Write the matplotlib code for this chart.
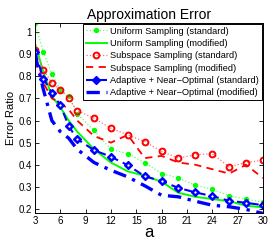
import numpy as np
import matplotlib
matplotlib.use('Agg')
import matplotlib.pyplot as plt

plt.rcParams['font.family'] = ['Liberation Sans', 'DejaVu Sans']

a = [3, 4, 5, 6, 7, 8, 10, 12, 14, 16, 18, 20, 22, 24, 26, 28, 30]

uniform_std = [1.04, 0.91, 0.81, 0.74, 0.71, 0.63, 0.555, 0.47, 0.45, 0.41, 0.36, 0.34, 0.307, 0.29, 0.26, 0.245, 0.23]
uniform_mod = [0.95, 0.82, 0.71, 0.66, 0.60, 0.55, 0.47, 0.41, 0.37, 0.35, 0.323, 0.273, 0.255, 0.245, 0.235, 0.215, 0.207]
subspace_std = [0.92, 0.83, 0.77, 0.74, 0.70, 0.645, 0.61, 0.565, 0.535, 0.505, 0.46, 0.43, 0.445, 0.45, 0.39, 0.41, 0.42]
subspace_mod = [0.87, 0.77, 0.70, 0.68, 0.65, 0.60, 0.53, 0.50, 0.535, 0.43, 0.44, 0.41, 0.40, 0.38, 0.36, 0.40, 0.34]
adaptive_std = [0.91, 0.79, 0.725, 0.67, 0.575, 0.516, 0.466, 0.436, 0.398, 0.348, 0.326, 0.295, 0.275, 0.258, 0.237, 0.228, 0.217]
adaptive_mod = [0.90, 0.74, 0.60, 0.55, 0.52, 0.47, 0.41, 0.375, 0.345, 0.305, 0.262, 0.255, 0.235, 0.217, 0.21, 0.198, 0.18]

labels = ['Uniform Sampling (standard)', 'Uniform Sampling (modified)',
          'Subspace Sampling (standard)', 'Subspace Sampling (modified)',
          'Adaptive + Near\u2212Optimal (standard)', 'Adaptive + Near\u2212Optimal (modified)']

xticks = [3, 6, 9, 12, 15, 18, 21, 24, 27, 30]
yticks = [0.2, 0.3, 0.4, 0.5, 0.6, 0.7, 0.8, 0.9, 1.0]
yticklabels = ['0.2', '0.3', '0.4', '0.5', '0.6', '0.7', '0.8', '0.9', '1']

fig = plt.figure(figsize=(2.73, 2.45), dpi=100)
ax = fig.add_axes([0.128, 0.129, 0.835, 0.778])

l1, = ax.plot(a, uniform_std, ':', color='#66ff66', lw=0.9, marker='o', ms=2.8,
              markerfacecolor='#00ff00', markeredgecolor='#00ff00')
l2, = ax.plot(a, uniform_mod, '-', color='#00ff00', lw=1.4)
l3, = ax.plot(a, subspace_std, ':', color='#ff7070', lw=0.9, marker='o', ms=4.2,
              markerfacecolor='none', markeredgecolor='#ff0000', markeredgewidth=1.4)
l4, = ax.plot(a, subspace_mod, '--', color='#ff0000', lw=1.3, dashes=(4, 3))
l5, = ax.plot(a, adaptive_std, '--', color='#0000ff', lw=1.5, dashes=(4, 2.5),
              marker='D', ms=4.2, markerfacecolor='#0000ff', markeredgecolor='#0000ff')
ax.plot(a, adaptive_std, linestyle='none', marker='o', ms=2.2,
        markerfacecolor='white', markeredgecolor='#0000ff', markeredgewidth=0.5)
l6, = ax.plot(a, adaptive_mod, '-.', color='#0000ff', lw=2.4, dashes=(4, 2, 1, 2))

ax.set_xlim(3, 30)
ax.set_ylim(0.18, 1.042)
ax.set_xticks(xticks)
ax.set_yticks(yticks)
ax.set_yticklabels(yticklabels)
ax.tick_params(direction='in', top=True, right=True, labelsize=7, length=3, width=0.6, pad=2)
for s in ax.spines.values():
    s.set_linewidth(0.7)

ax.set_title('Approximation Error', fontsize=10, pad=3)
ax.set_xlabel('a', fontsize=12, labelpad=-1)
ax.set_ylabel('Error Ratio', fontsize=8, labelpad=2)

leg = ax.legend([l1, l2, l3, l4, l5, l6], labels, loc='upper right', fontsize=6.7,
                frameon=True, fancybox=False, edgecolor='black', framealpha=1,
                borderpad=0.3, labelspacing=0.36, handlelength=2.2, handletextpad=0.4,
                borderaxespad=0.1)
leg.get_frame().set_linewidth(0.7)

fig.savefig('out.png', dpi=100)
